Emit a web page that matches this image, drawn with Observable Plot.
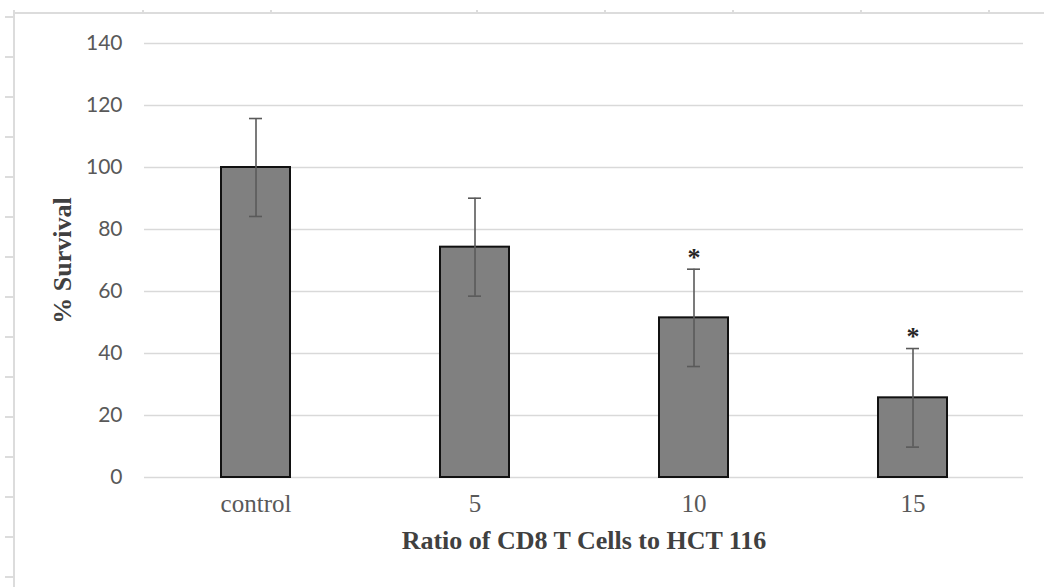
<!DOCTYPE html>
<html>
<head>
<meta charset="utf-8">
<script src="https://cdn.jsdelivr.net/npm/d3@7"></script>
<script src="https://cdn.jsdelivr.net/npm/@observablehq/plot@0.6"></script>
<style>
  html, body { margin: 0; padding: 0; background: #fff; }
  #wrap { position: relative; width: 1044px; height: 587px; overflow: hidden; }
  #wrap svg { position: absolute; left: 0; top: 0; }
  .deco { position: absolute; background: #dcdcdc; }
</style>
</head>
<body>
<div id="wrap"></div>
<script>
const categories = ["control", "5", "10", "15"];
const survival = [100, 74.3, 51.5, 25.7];
const errors = [15.8, 15.8, 15.7, 15.9];
const significant = [false, false, true, true];
const yTicks = [0, 20, 40, 60, 80, 100, 120, 140];
const xTitle = ["Ratio of CD8 T Cells to HCT 116"];
const yTitle = ["% Survival"];

const data = categories.map((c, i) => ({
  cat: c, value: survival[i], lo: survival[i] - errors[i], hi: survival[i] + errors[i], sig: significant[i]
}));

const serif = "'Liberation Serif', 'Times New Roman', serif";

const chart = Plot.plot({
  width: 1044,
  height: 587,
  marginLeft: 144,
  marginRight: 21,
  marginTop: 43,
  marginBottom: 110,
  style: { background: "transparent", overflow: "visible" },
  x: { domain: categories, paddingInner: 0.686, paddingOuter: 0.343, label: null },
  y: { domain: [0, 140], label: null },
  marks: [
    Plot.gridY(yTicks, { stroke: "#d9d9d9", strokeOpacity: 1, strokeWidth: 1.5 }),
    Plot.axisY(yTicks, {
      tickSize: 0, tickPadding: 22, fontSize: 21, fill: "#595959",
      fontFamily: "Lato, 'Liberation Sans', sans-serif", label: null
    }),
    Plot.axisX({
      tickSize: 0, tickPadding: 17, fontSize: 25, fill: "#595959",
      fontFamily: serif, label: null
    }),
    Plot.barY(data, { x: "cat", y1: 0, y2: "value", fill: "#808080", stroke: "#111", strokeWidth: 2 }),
    Plot.ruleX(data, { x: "cat", y1: "lo", y2: "hi", stroke: "#5a5a5a", strokeWidth: 1.6 }),
    Plot.tickY(data, { x: "cat", y: "hi", stroke: "#5a5a5a", strokeWidth: 1.6, insetLeft: 28, insetRight: 28 }),
    Plot.tickY(data, { x: "cat", y: "lo", stroke: "#5a5a5a", strokeWidth: 1.6, insetLeft: 28, insetRight: 28 }),
    Plot.text(data.filter(d => d.sig), {
      x: "cat", y: "hi", text: () => "*", lineAnchor: "bottom", dy: -3.5,
      fontSize: 26, fontWeight: "bold", fontFamily: serif, fill: "#262626"
    }),
    Plot.text(xTitle, {
      frameAnchor: "bottom", textAnchor: "middle", lineAnchor: "bottom", dy: 71,
      text: d => d, fontSize: 26, fontWeight: "bold", fontFamily: serif, fill: "#404040"
    }),
    Plot.text(yTitle, {
      frameAnchor: "left", textAnchor: "middle", lineAnchor: "middle", dx: -82, rotate: -90,
      text: d => d, fontSize: 26, fontWeight: "bold", fontFamily: serif, fill: "#404040"
    })
  ]
});

const wrap = document.getElementById("wrap");
// decorative frame (page ruler) around the chart
function deco(l, t, w, h) {
  const d = document.createElement("div");
  d.className = "deco";
  d.style.left = l + "px"; d.style.top = t + "px";
  d.style.width = w + "px"; d.style.height = h + "px";
  wrap.appendChild(d);
}
deco(13, 10, 2, 577);
deco(13, 12, 1031, 2);
[142, 270, 476, 604, 732, 860, 988].forEach(x => deco(x, 10, 2, 3));
for (let y = 16; y < 587; y += 40) deco(5, y, 9, 2);
wrap.appendChild(chart);
</script>
</body>
</html>
